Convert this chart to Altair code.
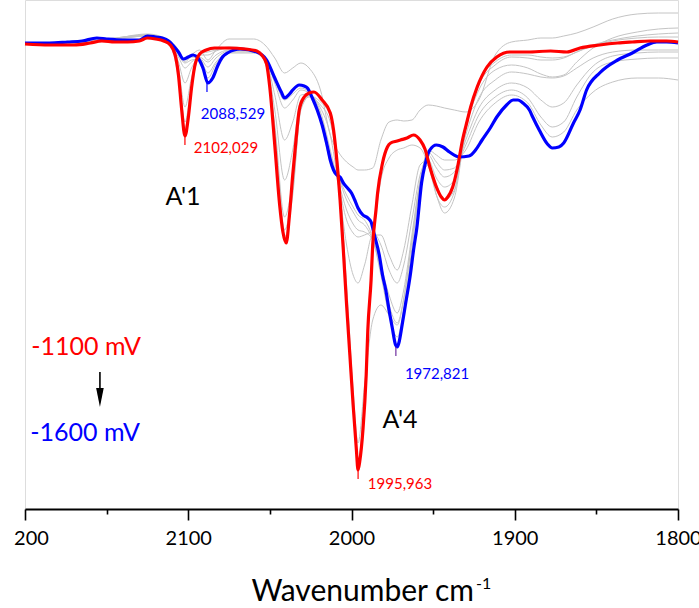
import altair as alt
import pandas as pd

RED_WN = [2200, 2185, 2170, 2160, 2153, 2145, 2137, 2130, 2125, 2120, 2115, 2111, 2108, 2106, 2104,
          2102, 2100, 2098, 2096, 2093, 2089, 2084, 2075, 2065, 2058, 2055, 2052, 2050, 2047, 2044,
          2042, 2040, 2038, 2036, 2034, 2032, 2029, 2026, 2023, 2018, 2013, 2011, 2009, 2007, 2005,
          2003, 2001, 1999, 1997, 1996, 1995, 1993, 1991, 1990, 1988, 1987, 1985, 1984, 1981, 1978,
          1976, 1972, 1970, 1966, 1962, 1958, 1955, 1952, 1948, 1945, 1943, 1941, 1938, 1935, 1932,
          1929, 1927, 1923, 1917, 1911, 1903, 1892, 1878, 1868, 1860, 1848, 1837, 1828, 1817, 1807, 1800]
RED_D = [44, 45, 45, 43, 41, 42, 42, 41, 38, 39, 41, 45, 55, 75, 110,
         136, 118, 88, 66, 54, 50, 48, 48, 49, 51, 55, 64, 88, 145, 205,
         232, 243, 215, 175, 140, 110, 97, 93, 92, 100, 113, 130, 160, 200, 250,
         305, 355, 405, 450, 470, 462, 430, 375, 330, 280, 245, 210, 193, 163, 147,
         143, 141, 140, 138, 135, 140, 149, 167, 187, 197, 200, 197, 187, 167, 140,
         120, 107, 87, 67, 57, 52, 52, 51, 52, 48, 45, 43, 42, 41, 41, 42]

BLUE_WN = [2200, 2185, 2174, 2165, 2156, 2150, 2140, 2130, 2125, 2120, 2116, 2112, 2109, 2106, 2103,
           2100, 2097, 2094, 2091, 2088, 2085, 2082, 2079, 2076, 2068, 2058, 2052, 2047, 2043, 2041,
           2038, 2036, 2032, 2029, 2027, 2024, 2021, 2018, 2015, 2013, 2011, 2009, 2007, 2005, 2003,
           2000, 1998, 1996, 1993, 1990, 1988, 1986, 1983, 1981, 1979, 1977, 1975, 1973, 1972, 1971,
           1969, 1967, 1964, 1962, 1960, 1957, 1955, 1952, 1948, 1944, 1940, 1934, 1928, 1924, 1920,
           1915, 1911, 1905, 1901, 1898, 1895, 1891, 1889, 1885, 1880, 1877, 1873, 1870, 1864, 1860,
           1856, 1848, 1837, 1828, 1819, 1813, 1807, 1800]
BLUE_D = [43, 43, 42, 41, 38, 39, 40, 40, 36, 37, 38, 41, 46, 52, 59,
          57, 55, 58, 68, 83, 78, 66, 57, 53, 49, 52, 60, 78, 92, 98,
          94, 90, 85, 86, 88, 98, 110, 125, 145, 160, 170, 175, 177, 183, 187,
          193, 200, 208, 215, 218, 222, 235, 255, 275, 290, 310, 328, 345, 347, 343,
          325, 305, 275, 250, 228, 182, 165, 150, 145, 147, 152, 157, 156, 150, 140,
          128, 117, 105, 100, 100, 103, 110, 117, 130, 144, 148, 147, 143, 123, 110,
          90, 73, 60, 53, 45, 42, 42, 43]

GRID_WN = [2200, 2170, 2150, 2125, 2112, 2106, 2102, 2098, 2093, 2088, 2083, 2075, 2060, 2053, 2047,
           2041, 2036, 2031, 2026, 2019, 2013, 2008, 2003, 1999, 1996, 1992, 1987, 1982, 1977, 1972,
           1968, 1963, 1958, 1953, 1948, 1943, 1937, 1930, 1922, 1912, 1902, 1892, 1884, 1877, 1870,
           1862, 1852, 1840, 1825, 1812, 1800]
GRAY_1 = [43, 44, 41, 36, 43, 78, 128, 88, 53, 50, 49, 48, 50, 62, 135,
          237, 195, 108, 96, 102, 116, 170, 290, 400, 460, 395, 250, 180, 158, 150,
          148, 145, 148, 165, 195, 213, 198, 128, 82, 62, 55, 55, 57, 58, 57,
          52, 45, 40, 36, 34, 33]
GRAY_2 = [43, 43, 40, 36, 42, 72, 122, 85, 54, 52, 50, 47, 50, 61, 130,
          230, 190, 110, 97, 105, 122, 175, 285, 390, 443, 385, 320, 305, 315, 325,
          300, 240, 185, 165, 185, 200, 190, 130, 85, 65, 57, 58, 60, 60, 58,
          52, 46, 41, 38, 37, 37]
GRAY_3 = [43, 43, 40, 35, 42, 68, 107, 78, 55, 55, 51, 48, 50, 60, 125,
          217, 180, 105, 95, 108, 135, 185, 245, 275, 283, 265, 235, 235, 255, 270,
          250, 205, 165, 160, 195, 207, 192, 128, 90, 70, 65, 68, 74, 77, 75,
          62, 48, 38, 32, 29, 28]
GRAY_4 = [43, 43, 40, 34, 40, 50, 62, 55, 50, 60, 50, 39, 39, 45, 58,
          73, 68, 63, 68, 90, 135, 152, 162, 167, 170, 170, 168, 140, 122, 120,
          121, 120, 110, 105, 106, 108, 110, 112, 100, 55, 42, 40, 38, 38, 36,
          33, 27, 19, 14, 13, 13]
GRAY_5 = [43, 43, 40, 35, 41, 62, 83, 68, 57, 62, 55, 50, 51, 59, 110,
          180, 150, 100, 95, 112, 150, 185, 220, 233, 237, 235, 232, 245, 270, 283,
          265, 220, 175, 160, 178, 187, 180, 135, 98, 80, 72, 74, 77, 78, 76,
          68, 58, 52, 50, 50, 50]
GRAY_6 = [43, 42, 40, 35, 41, 57, 68, 62, 58, 67, 58, 51, 51, 58, 95,
          140, 122, 95, 94, 115, 155, 182, 210, 224, 230, 232, 240, 265, 295, 313,
          290, 235, 180, 155, 168, 177, 172, 140, 108, 90, 83, 88, 100, 107, 103,
          85, 66, 56, 53, 52, 52]
GRAY_7 = [43, 42, 39, 35, 40, 55, 63, 60, 59, 73, 62, 52, 52, 58, 83,
          108, 100, 90, 93, 118, 158, 178, 200, 212, 220, 225, 240, 270, 305, 323,
          298, 240, 182, 152, 162, 170, 168, 145, 115, 97, 90, 98, 117, 127, 122,
          97, 72, 62, 59, 58, 58]
GRAY_8 = [43, 42, 39, 35, 40, 53, 60, 57, 59, 78, 64, 53, 53, 58, 80,
          100, 94, 88, 92, 120, 162, 177, 195, 207, 215, 220, 238, 275, 315, 337,
          310, 248, 185, 150, 155, 160, 160, 150, 122, 103, 95, 103, 125, 137, 132,
          110, 92, 82, 78, 78, 80]
GRAYS = [GRAY_1, GRAY_2, GRAY_3, GRAY_4, GRAY_5, GRAY_6, GRAY_7, GRAY_8]

PEAK_WN = [2102.029, 2088.529, 1995.963, 1972.821]
PEAK_D = [136, 83, 470, 347]
PEAK_COLORS = ["#FF0000", "#0000FF", "#FF0000", "#7030A0"]

AXIS_TICKS = [2200, 2150, 2100, 2050, 2000, 1950, 1900, 1850, 1800]


def to_abs(d):
    return (45 - d) / 400.0


rows = []
for i, g in enumerate(GRAYS):
    for w, d in zip(GRID_WN, g):
        rows.append({"wn": w, "val": to_abs(d), "s": f"g{i}"})
gray_df = pd.DataFrame(rows)
red_df = pd.DataFrame({"wn": RED_WN, "val": [to_abs(d) for d in RED_D]})
blue_df = pd.DataFrame({"wn": BLUE_WN, "val": [to_abs(d) for d in BLUE_D]})
peak_df = pd.DataFrame({"wn": PEAK_WN, "val": [to_abs(d) for d in PEAK_D],
                        "val2": [to_abs(d + 9) for d in PEAK_D], "c": PEAK_COLORS})

ann_df = pd.DataFrame({
    "t": ["2088,529", "2102,029", "1972,821", "1995,963", "A'1", "A'4", "-1100 mV", "-1600 mV"],
    "wn": [2072.6, 2076.9, 1947.6, 1970.3, 2103.2, 1970.3, 2162.6, 2163.2],
    "val": [-0.1725, -0.2575, -0.8225, -1.0975, -0.38, -0.9375, -0.755, -0.97],
    "c": ["#0000FF", "#FF0000", "#0000FF", "#FF0000", "#000000", "#000000", "#FF0000", "#0000FF"],
    "s": [15, 15, 15, 15, 25, 25, 25, 25],
})

xscale = alt.Scale(domain=[2200, 1800], nice=False, zero=False)
yscale = alt.Scale(domain=[-1.16, 0.1125], nice=False, zero=False)

xaxis = alt.Axis(
    values=AXIS_TICKS, format="d",
    labelExpr="datum.value % 100 == 0 ? (datum.value == 2200 ? '200' : datum.label) : ''",
    tickSize={"condition": {"test": "datum.value % 100 == 0", "value": 11}, "value": 5},
    labelOffset={"condition": {"test": "datum.value == 2200", "value": 6}, "value": 0},
    labelFlush=False, labelBound=False, domain=True, ticks=True,
    domainColor="black", domainWidth=2, tickColor="black", tickWidth=1.6,
    labelFont="Lato", labelFontSize=20, labelColor="black", labelPadding=8,
    grid=False, title=None, labelOverlap=False,
)

X = alt.X("wn:Q", scale=xscale, axis=xaxis)
Y = alt.Y("val:Q", scale=yscale, axis=None)

gray = alt.Chart(gray_df).mark_line(color="#c4c4c4", strokeWidth=1, interpolate="monotone").encode(
    x=X, y=Y, detail="s:N")
blue = alt.Chart(blue_df).mark_line(color="#0000FF", strokeWidth=3.2, interpolate="monotone").encode(
    x=X, y=Y)
red = alt.Chart(red_df).mark_line(color="#FF0000", strokeWidth=3.2, interpolate="monotone").encode(
    x=X, y=Y)
peaks = alt.Chart(peak_df).mark_rule(strokeWidth=1.2).encode(
    x=X, y=Y, y2="val2:Q", color=alt.Color("c:N", scale=None))
ann = alt.Chart(ann_df).mark_text(font="Lato", align="center", baseline="middle").encode(
    x=X, y=Y, text="t:N", color=alt.Color("c:N", scale=None), size=alt.Size("s:Q", scale=None))

arrow_df = pd.DataFrame({"wn": [2154.1], "val": [-0.8175], "val2": [-0.8725], "vh": [-0.88125]})
arrow_line = alt.Chart(arrow_df).mark_rule(color="black", strokeWidth=1.6).encode(
    x=X, y=Y, y2="val2:Q")
arrow_head = alt.Chart(arrow_df).mark_point(
    shape="M -0.4 -1 L 0.4 -1 L 0 1 Z", filled=True, color="black", opacity=1, size=361).encode(
    x=X, y=alt.Y("vh:Q", scale=yscale, axis=None))

title_df = pd.DataFrame({"a": [0]})
title_main = alt.Chart(title_df).mark_text(
    text="Wavenumber cm", font="Lato", fontSize=30, align="right", baseline="alphabetic", color="black"
).encode(x=alt.value(449), y=alt.value(601))
title_sup = alt.Chart(title_df).mark_text(
    text="-1", font="Lato", fontSize=16, align="left", baseline="alphabetic", color="black"
).encode(x=alt.value(451), y=alt.value(589))

chart = alt.layer(gray, blue, red, peaks, ann, arrow_line, arrow_head, title_main, title_sup).properties(
    width=653, height=509,
    autosize=alt.AutoSizeParams(type="none"),
    padding={"left": 25, "top": 0, "right": 21, "bottom": 99},
).configure_view(
    strokeWidth=0, stroke="transparent"
).configure_axis(
    domain=False, ticks=False, grid=False
).configure(background="white")

chart.save("out.html", embed_options={"renderer": "svg", "actions": False})
